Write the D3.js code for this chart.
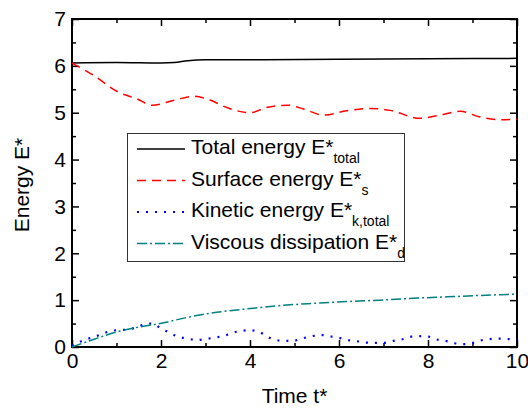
<!DOCTYPE html>
<html>
<head>
<meta charset="utf-8">
<script src="https://cdn.jsdelivr.net/npm/d3@7"></script>
<style>
  body { margin: 0; background: #fff; }
  text { font-family: "Liberation Sans", Arial, sans-serif; fill: #000; }
</style>
</head>
<body>
<div id="main"></div>
<script>
// data
const totalT = [0, 1, 2, 2.3, 2.6, 3, 4, 6, 8, 10];
const totalE = [6.06, 6.07, 6.06, 6.07, 6.11, 6.13, 6.13, 6.14, 6.15, 6.16];

const surfT = [0, 0.48, 1.04, 1.45, 1.8, 2.31, 2.73, 3.1, 3.48, 4.0, 4.37, 4.85, 5.2, 5.65, 6.17, 6.7, 7.15, 7.82, 8.27, 8.72, 9.17, 9.62, 10];
const surfE = [6.06, 5.8, 5.44, 5.3, 5.16, 5.27, 5.35, 5.27, 5.11, 5.0, 5.11, 5.16, 5.08, 4.95, 5.04, 5.09, 5.05, 4.88, 4.95, 5.03, 4.91, 4.85, 4.86];

const kinT = [0, 0.22, 0.44, 0.63, 0.83, 1.02, 1.23, 1.42, 1.62, 1.8, 1.98, 2.2, 2.39, 2.59, 2.8, 3.0, 3.19, 3.4, 3.59, 3.78, 3.98, 4.19, 4.37, 4.58, 4.79, 4.97, 5.16, 5.39, 5.57, 5.76, 5.98, 6.17, 6.36, 6.55, 6.76, 7.0, 7.22, 7.41, 7.62, 7.82, 8.01, 8.2, 8.4, 8.6, 8.79, 8.98, 9.18, 9.39, 9.58, 9.8, 10];
const kinE = [0.02, 0.13, 0.2, 0.26, 0.33, 0.36, 0.37, 0.41, 0.48, 0.5, 0.41, 0.3, 0.22, 0.18, 0.15, 0.17, 0.2, 0.23, 0.3, 0.34, 0.36, 0.33, 0.23, 0.15, 0.13, 0.13, 0.18, 0.23, 0.26, 0.23, 0.2, 0.15, 0.13, 0.1, 0.09, 0.09, 0.13, 0.16, 0.22, 0.23, 0.22, 0.16, 0.13, 0.08, 0.06, 0.08, 0.14, 0.17, 0.18, 0.17, 0.15];

const viscT = [0, 0.48, 1.0, 1.53, 1.98, 2.58, 3.25, 4.0, 4.9, 5.42, 6.17, 6.92, 7.67, 8.42, 9.17, 10];
const viscE = [0.0, 0.16, 0.32, 0.43, 0.5, 0.63, 0.74, 0.82, 0.9, 0.93, 0.97, 1.0, 1.04, 1.07, 1.1, 1.13];

const xTicks = [0, 2, 4, 6, 8, 10];
const yTicks = [0, 1, 2, 3, 4, 5, 6, 7];

const width = 528;
const height = 410;
const margin = { top: 19, right: 11, bottom: 63, left: 72 };

const svg = d3.select("#main").append("svg").attr("width", width).attr("height", height);

const x = d3.scaleLinear().domain([0, 10]).range([margin.left, width - margin.right]);
const y = d3.scaleLinear().domain([0, 7]).range([height - margin.bottom, margin.top]);

// minor ticks
const xMinor = d3.range(1, 10, 2);
const yMinor = d3.range(0.5, 7, 1);

svg.append("g")
  .attr("transform", `translate(0, ${y(0)})`)
  .call(d3.axisBottom(x).tickValues(xTicks).tickSize(-7).tickPadding(6).tickFormat(d3.format("d")))
  .call(g => g.select(".domain").remove())
  .call(g => g.selectAll("text").style("font-size", "21px").style("font-family", "Liberation Sans, Arial, sans-serif"));

svg.append("g")
  .attr("transform", `translate(0, ${y(0)})`)
  .call(d3.axisBottom(x).tickValues(xMinor).tickSize(-4).tickFormat(""))
  .call(g => g.select(".domain").remove());

svg.append("g")
  .attr("transform", `translate(0, ${y(7)})`)
  .call(d3.axisTop(x).tickValues(xTicks).tickSize(-7).tickFormat(""))
  .call(g => g.select(".domain").remove());

svg.append("g")
  .attr("transform", `translate(0, ${y(7)})`)
  .call(d3.axisTop(x).tickValues(xMinor).tickSize(-4).tickFormat(""))
  .call(g => g.select(".domain").remove());

svg.append("g")
  .attr("transform", `translate(${x(0)}, 0)`)
  .call(d3.axisLeft(y).tickValues(yTicks).tickSize(-7).tickPadding(6).tickFormat(d3.format("d")))
  .call(g => g.select(".domain").remove())
  .call(g => g.selectAll("text").style("font-size", "21px").style("font-family", "Liberation Sans, Arial, sans-serif"));

svg.append("g")
  .attr("transform", `translate(${x(0)}, 0)`)
  .call(d3.axisLeft(y).tickValues(yMinor).tickSize(-4).tickFormat(""))
  .call(g => g.select(".domain").remove());

svg.append("g")
  .attr("transform", `translate(${x(10)}, 0)`)
  .call(d3.axisRight(y).tickValues(yTicks).tickSize(-7).tickFormat(""))
  .call(g => g.select(".domain").remove());

svg.append("g")
  .attr("transform", `translate(${x(10)}, 0)`)
  .call(d3.axisRight(y).tickValues(yMinor).tickSize(-4).tickFormat(""))
  .call(g => g.select(".domain").remove());

svg.selectAll(".tick line").attr("stroke", "#000").attr("stroke-width", 1.5);

// frame
svg.append("rect")
  .attr("x", x(0)).attr("y", y(7))
  .attr("width", x(10) - x(0)).attr("height", y(0) - y(7))
  .attr("fill", "none").attr("stroke", "#000").attr("stroke-width", 2);

const series = [
  { t: totalT, e: totalE, color: "#000000", dash: null },
  { t: surfT, e: surfE, color: "#ff0000", dash: "9,6" },
  { t: kinT, e: kinE, color: "#0000ff", dash: "2,7" },
  { t: viscT, e: viscE, color: "#008080", dash: "10,3,2,3" },
];

const line = d3.line().x(d => x(d[0])).y(d => y(d[1])).curve(d3.curveMonotoneX);

series.forEach(s => {
  svg.append("path")
    .datum(s.t.map((t, i) => [t, s.e[i]]))
    .attr("d", line)
    .attr("fill", "none")
    .attr("stroke", s.color)
    .attr("stroke-width", s.dash === "2,7" ? 2.2 : 1.5)
    .attr("stroke-dasharray", s.dash);
});

// legend
const legendNames = ["Total energy E*", "Surface energy E*", "Kinetic energy E*", "Viscous dissipation E*"];
const legendSubs = ["total", "s", "k,total", "d"];

svg.append("rect")
  .attr("x", 127.5).attr("y", 133.5).attr("width", 277).attr("height", 128)
  .attr("fill", "#fff").attr("stroke", "#333").attr("stroke-width", 1);

series.forEach((s, i) => {
  const ly = 149 + i * 31.5;
  svg.append("line")
    .attr("x1", 137).attr("x2", 185).attr("y1", ly).attr("y2", ly)
    .attr("stroke", s.color)
    .attr("stroke-width", s.dash === "2,7" ? 2.2 : 1.5)
    .attr("stroke-dasharray", s.dash);
  const txt = svg.append("text")
    .attr("x", 191).attr("y", ly + 5)
    .style("font-size", "21px");
  txt.append("tspan").text(legendNames[i]);
  txt.append("tspan").attr("dy", 9).style("font-size", "14px").text(legendSubs[i]);
});

// axis titles
svg.append("text")
  .attr("transform", `translate(29, ${(y(0) + y(7)) / 2 + 2}) rotate(-90)`)
  .attr("text-anchor", "middle")
  .style("font-size", "21px")
  .text("Energy E*");

svg.append("text")
  .attr("x", (x(0) + x(10)) / 2)
  .attr("y", 403)
  .attr("text-anchor", "middle")
  .style("font-size", "21px")
  .text("Time t*");
</script>
</body>
</html>
